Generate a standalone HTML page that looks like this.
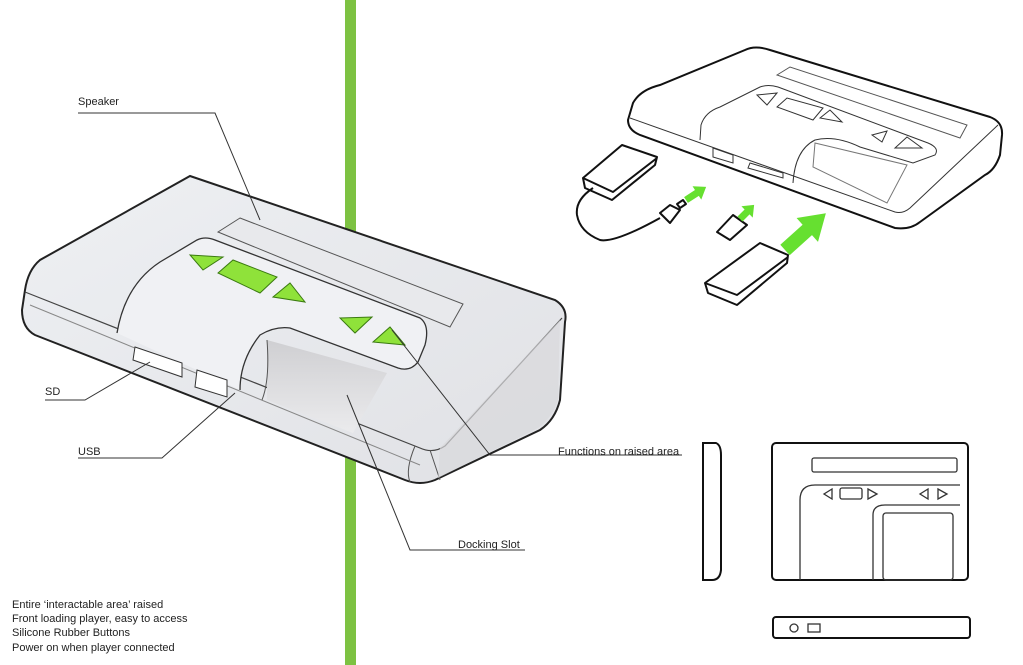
<!DOCTYPE html>
<html><head><style>
html,body{margin:0;padding:0;background:#fff;}
body{width:1023px;height:665px;position:relative;overflow:hidden;font-family:"Liberation Sans",sans-serif;}
.t{position:absolute;font-size:11px;color:#222;white-space:nowrap;line-height:14px;}
</style></head><body>
<svg width="1023" height="665" style="position:absolute;left:0;top:0">
<defs>
<linearGradient id="g1" x1="0" y1="0" x2="1" y2="1"><stop offset="0" stop-color="#eef0f3"/><stop offset="1" stop-color="#e0e1e5"/></linearGradient>
<linearGradient id="g2" x1="0" y1="0" x2="0" y2="1"><stop offset="0" stop-color="#cfcfd2"/><stop offset="1" stop-color="#ebebed"/></linearGradient>
</defs>
<rect x="345" y="0" width="11" height="665" fill="#7dc242"/>
<!-- main device -->
<path d="M190,176 L555,300 Q568,308 565,322 L560,400 Q555,420 540,430 L435,480 Q420,486 405,480 L35,335 Q22,328 22,310 L25,290 Q28,270 40,260 Z" fill="url(#g1)" stroke="#222" stroke-width="2"/>
<path d="M25,292 L420,448 Q433,454 445,446 L562,318" fill="none" stroke="#444" stroke-width="1.2"/>
<path d="M430,450 L440,480 M415,446 Q405,470 410,482" fill="none" stroke="#555"/>
<path d="M440,448 L560,320 L558,400 Q552,418 538,428 L438,478 Z" fill="#d8d8dc" opacity="0.7"/>
<path d="M30,305 L420,465" stroke="#888" fill="none"/>
<path d="M240,218 L463,304 L450,327 L218,232 Z" fill="#e8e9ec" stroke="#555"/>
<path d="M117,333 Q125,285 160,262 L197,240 Q205,236 215,240 L420,318 Q430,325 425,345 L418,362 Q410,372 398,368 L290,328 Q275,326 260,335 Q240,360 240,390" fill="#f0f1f4" stroke="#333" stroke-width="1.3"/>
<path d="M267,340 L387,373 L353,433 L267,400 Z" fill="url(#g2)"/>
<path d="M267,340 Q270,380 262,400" fill="none" stroke="#555"/>
<g fill="#8fe23a" stroke="#3a7a10" stroke-width="1">
<path d="M190,255 L223,257 L203,270 Z"/>
<path d="M218,273 L233,260 L277,277 L260,293 Z"/>
<path d="M273,297 L290,283 L305,302 Z"/>
<path d="M340,318 L372,317 L355,333 Z"/>
<path d="M373,342 L390,327 L405,345 Z"/>
</g>
<path d="M135,347 L182,363 L182,377 L133,360 Z" fill="#fff" stroke="#333"/>
<path d="M197,370 L227,380 L227,397 L195,387 Z" fill="#fff" stroke="#333"/>
<g stroke="#333" fill="none" stroke-width="1">
<path d="M78,113 L215,113 L260,220"/>
<path d="M45,400 L85,400 L150,362"/>
<path d="M78,458 L162,458 L235,393"/>
<path d="M392,330 L490,455 L682,455"/>
<path d="M347,395 L410,550 L525,550"/>
</g>
<!-- right top device -->
<path d="M633,103 Q640,90 660,85 L745,50 Q755,45 770,50 L990,117 Q1003,122 1002,135 L1000,155 Q995,170 985,175 L920,222 Q910,230 895,228 L640,135 Q628,130 628,120 Z" fill="#fff" stroke="#111" stroke-width="2"/>
<path d="M630,118 L895,212 Q903,214 910,208 L998,125" fill="none" stroke="#333"/>
<path d="M777,75 L790,67 L967,125 L960,138 Z" fill="none" stroke="#555"/>
<path d="M700,140 L701,125 Q705,112 720,107 L760,87 Q768,84 778,87 L928,143 Q940,148 935,155 L913,163 L860,147 Q835,135 815,140 Q795,150 793,183" fill="none" stroke="#333"/>
<g fill="none" stroke="#333">
<path d="M757,95 L777,93 L767,105 Z"/><path d="M777,107 L787,98 L823,108 L813,120 Z"/><path d="M820,118 L830,110 L842,122 Z"/>
<path d="M872,135 L887,131 L882,142 Z"/><path d="M895,148 L907,137 L922,148 Z"/>
<path d="M713,148 L733,155 L733,163 L713,157 Z"/><path d="M750,163 L783,173 L783,178 L748,168 Z"/>
<path d="M815,143 L907,165 L887,203 L813,167 Z" stroke="#777"/>
</g>
<!-- accessories -->
<g fill="#fff" stroke="#111" stroke-width="2" stroke-linejoin="round">
<path d="M583,178 L622,145 L657,157 L655,165 L612,200 L585,188 Z"/>
<path d="M583,178 L613,192 L657,158" fill="none"/>
<path d="M593,188 Q575,200 577,215 Q580,232 600,240 Q615,243 660,218" fill="none"/>
<path d="M660,213 L670,205 L680,210 L670,223 Z"/>
<path d="M677,204 L683,200 L686,204 L680,208 Z"/>
<path d="M717,232 L733,215 L747,225 L730,240 Z"/>
<path d="M705,283 L760,243 L788,255 L787,263 L737,305 L708,293 Z"/>
<path d="M705,283 L737,295 L788,257" fill="none"/>
</g>
<g fill="#66e030">
<g transform="translate(686,200) rotate(-33)"><path d="M0,-3.5 L13,-3.5 L13,-8 L24,0 L13,8 L13,3.5 L0,3.5 Z"/></g>
<g transform="translate(740,219) rotate(-45)"><path d="M0,-3.5 L10,-3.5 L10,-8 L20,0 L10,8 L10,3.5 L0,3.5 Z"/></g>
<g transform="translate(785,250) rotate(-42)"><path d="M0,-7 L30,-7 L30,-16 L55,0 L30,16 L30,7 L0,7 Z"/></g>
</g>
<!-- orthographic views -->
<g fill="none" stroke="#111" stroke-width="2">
<path d="M703,443 L716,443 Q721,445 721,455 L721,570 Q720,580 712,580 L703,580 Z"/>
<rect x="772" y="443" width="196" height="137" rx="4"/>
<rect x="773" y="617" width="197" height="21" rx="3"/>
</g>
<g fill="none" stroke="#333" stroke-width="1.3">
<rect x="812" y="458" width="145" height="14" rx="2"/>
<path d="M800,580 L800,500 Q800,485 815,485 L960,485"/>
<path d="M873,580 L873,515 Q873,505 885,505 L960,505"/>
<rect x="883" y="513" width="70" height="67" rx="3"/>
<path d="M832,489 L824,494 L832,499 Z"/><rect x="840" y="488" width="22" height="11" rx="2"/><path d="M868,489 L877,494 L868,499 Z"/>
<path d="M928,489 L920,494 L928,499 Z"/><path d="M938,489 L947,494 L938,499 Z"/>
<circle cx="794" cy="628" r="4"/><rect x="808" y="624" width="12" height="8"/>
</g>
</svg>
<div class="t" style="left:78px;top:95px">Speaker</div>
<div class="t" style="left:45px;top:385px">SD</div>
<div class="t" style="left:78px;top:445px">USB</div>
<div class="t" style="left:558px;top:445px">Functions on raised area</div>
<div class="t" style="left:458px;top:538px">Docking Slot</div>
<div class="t" style="left:12px;top:598px">Entire ‘interactable area’ raised</div>
<div class="t" style="left:12px;top:612px">Front loading player, easy to access</div>
<div class="t" style="left:12px;top:626px">Silicone Rubber Buttons</div>
<div class="t" style="left:12px;top:641px">Power on when player connected</div>
</body></html>
